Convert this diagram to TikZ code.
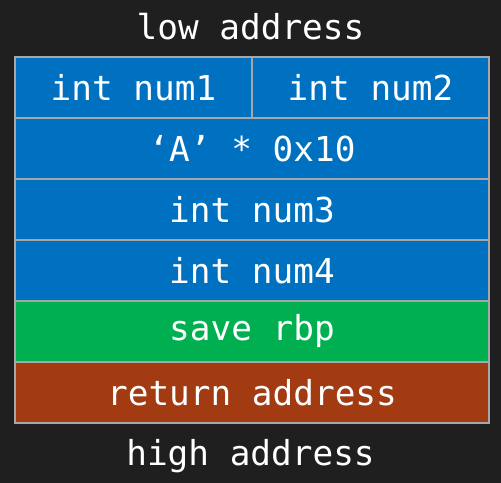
\documentclass[tikz,border=0pt]{standalone}
\usepackage{fontspec}
\setmonofont{DejaVu Sans Mono}
\usetikzlibrary{positioning}
\definecolor{bgdark}{HTML}{1F1F1F}
\definecolor{gridgray}{HTML}{A6A6A6}
\definecolor{stackblue}{HTML}{0070C0}
\definecolor{stackgreen}{HTML}{00B050}
\definecolor{stackbrown}{HTML}{A23A12}
\begin{document}
\begin{tikzpicture}[x=1bp,y=1bp,font=\ttfamily\fontsize{34.5}{40}\selectfont]
      \tikzstyle{cell}=[draw=gridgray,line width=1.5bp,text=white,minimum height=61bp,inner sep=0pt,outer sep=0pt]
      \tikzstyle{full cell}=[cell,minimum width=474bp]
      \tikzstyle{half cell}=[cell,minimum width=237bp]
      \tikzstyle{edge label}=[text=white,inner sep=0pt]

      \fill[bgdark] (0,0) rectangle (501,-483);
      \useasboundingbox (0,0) rectangle (501,-483);

      \node(low)[edge label] at (250.5,-27){low address};
      \node(num1)[half cell,fill=stackblue,anchor=north west] at (15,-57){int num1};
      \node(num2)[half cell,fill=stackblue,right=0pt of num1]{int num2};
      \node(buf)[full cell,fill=stackblue,anchor=north west] at (num1.south west){‘A’ * 0x10};
      \node(num3)[full cell,fill=stackblue,below=0pt of buf]{int num3};
      \node(num4)[full cell,fill=stackblue,below=0pt of num3]{int num4};
      \node(rbp)[full cell,fill=stackgreen,below=0pt of num4]{save rbp};
      \node(ret)[full cell,fill=stackbrown,below=0pt of rbp]{return address};
      \node(high)[edge label] at (250.5,-456){high address};
\end{tikzpicture}
\end{document}
